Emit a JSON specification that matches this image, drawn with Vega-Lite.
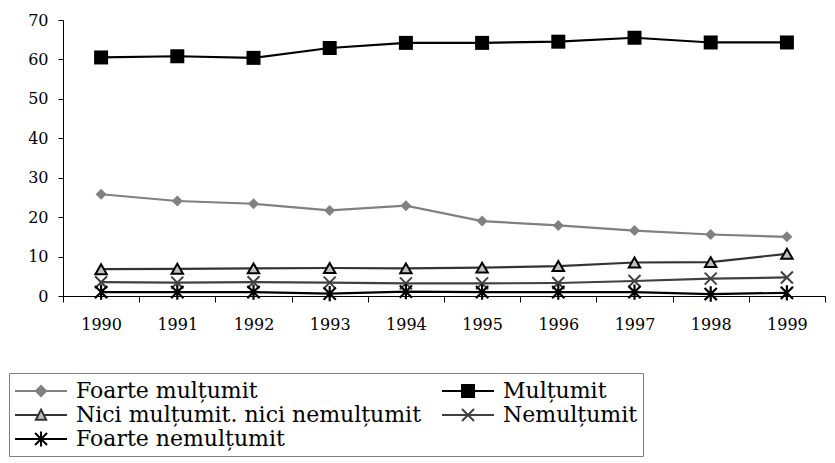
{
  "$schema": "https://vega.github.io/schema/vega-lite/v6.json",
  "width": 762,
  "height": 276,
  "autosize": {"type": "none"},
  "padding": {"left": 63, "top": 20, "right": 10, "bottom": 167},
  "background": "white",
  "config": {
    "view": {"stroke": null},
    "font": "DejaVu Serif",
    "axis": {"labelFont": "DejaVu Serif"},
    "legend": {"labelFont": "DejaVu Serif"}
  },
  "data": {
    "values": [
      {"series": "Foarte mulțumit", "year": "1990", "value": 25.8},
      {"series": "Foarte mulțumit", "year": "1991", "value": 24.1},
      {"series": "Foarte mulțumit", "year": "1992", "value": 23.4},
      {"series": "Foarte mulțumit", "year": "1993", "value": 21.7},
      {"series": "Foarte mulțumit", "year": "1994", "value": 22.9},
      {"series": "Foarte mulțumit", "year": "1995", "value": 19.0},
      {"series": "Foarte mulțumit", "year": "1996", "value": 17.9},
      {"series": "Foarte mulțumit", "year": "1997", "value": 16.6},
      {"series": "Foarte mulțumit", "year": "1998", "value": 15.6},
      {"series": "Foarte mulțumit", "year": "1999", "value": 15.0},
      {"series": "Mulțumit", "year": "1990", "value": 60.5},
      {"series": "Mulțumit", "year": "1991", "value": 60.8},
      {"series": "Mulțumit", "year": "1992", "value": 60.4},
      {"series": "Mulțumit", "year": "1993", "value": 62.9},
      {"series": "Mulțumit", "year": "1994", "value": 64.2},
      {"series": "Mulțumit", "year": "1995", "value": 64.2},
      {"series": "Mulțumit", "year": "1996", "value": 64.5},
      {"series": "Mulțumit", "year": "1997", "value": 65.5},
      {"series": "Mulțumit", "year": "1998", "value": 64.3},
      {"series": "Mulțumit", "year": "1999", "value": 64.3},
      {"series": "Nici mulțumit. nici nemulțumit", "year": "1990", "value": 6.8},
      {"series": "Nici mulțumit. nici nemulțumit", "year": "1991", "value": 6.9},
      {"series": "Nici mulțumit. nici nemulțumit", "year": "1992", "value": 7.0},
      {"series": "Nici mulțumit. nici nemulțumit", "year": "1993", "value": 7.1},
      {"series": "Nici mulțumit. nici nemulțumit", "year": "1994", "value": 7.0},
      {"series": "Nici mulțumit. nici nemulțumit", "year": "1995", "value": 7.2},
      {"series": "Nici mulțumit. nici nemulțumit", "year": "1996", "value": 7.6},
      {"series": "Nici mulțumit. nici nemulțumit", "year": "1997", "value": 8.5},
      {"series": "Nici mulțumit. nici nemulțumit", "year": "1998", "value": 8.6},
      {"series": "Nici mulțumit. nici nemulțumit", "year": "1999", "value": 10.7},
      {"series": "Nemulțumit", "year": "1990", "value": 3.5},
      {"series": "Nemulțumit", "year": "1991", "value": 3.4},
      {"series": "Nemulțumit", "year": "1992", "value": 3.5},
      {"series": "Nemulțumit", "year": "1993", "value": 3.4},
      {"series": "Nemulțumit", "year": "1994", "value": 3.2},
      {"series": "Nemulțumit", "year": "1995", "value": 3.2},
      {"series": "Nemulțumit", "year": "1996", "value": 3.3},
      {"series": "Nemulțumit", "year": "1997", "value": 3.8},
      {"series": "Nemulțumit", "year": "1998", "value": 4.4},
      {"series": "Nemulțumit", "year": "1999", "value": 4.7},
      {"series": "Foarte nemulțumit", "year": "1990", "value": 1.0},
      {"series": "Foarte nemulțumit", "year": "1991", "value": 1.0},
      {"series": "Foarte nemulțumit", "year": "1992", "value": 1.0},
      {"series": "Foarte nemulțumit", "year": "1993", "value": 0.6},
      {"series": "Foarte nemulțumit", "year": "1994", "value": 1.1},
      {"series": "Foarte nemulțumit", "year": "1995", "value": 1.0},
      {"series": "Foarte nemulțumit", "year": "1996", "value": 1.0},
      {"series": "Foarte nemulțumit", "year": "1997", "value": 1.0},
      {"series": "Foarte nemulțumit", "year": "1998", "value": 0.5},
      {"series": "Foarte nemulțumit", "year": "1999", "value": 0.8}
    ]
  },
  "encoding": {
    "x": {
      "field": "year", "type": "ordinal", "title": null,
      "scale": {"type": "band", "paddingInner": 0, "paddingOuter": 0},
      "axis": {
        "labelAngle": 0, "tickBand": "extent", "domainColor": "#000000", "tickColor": "#000000",
        "tickSize": 6, "labelPadding": 14, "labelFontSize": 16,
        "labelColor": "#000000", "domainWidth": 1, "tickWidth": 1
      }
    },
    "y": {
      "field": "value", "type": "quantitative", "title": null,
      "scale": {"domain": [0, 70], "nice": false},
      "axis": {
        "values": [0, 10, 20, 30, 40, 50, 60, 70], "grid": false, "domainColor": "#000000",
        "tickColor": "#000000", "tickSize": 5, "labelPadding": 10,
        "labelFontSize": 16, "labelColor": "#000000", "domainWidth": 1, "tickWidth": 1
      }
    }
  },
  "layer": [
    {
      "mark": {"type": "line", "strokeWidth": 2.2},
      "encoding": {
        "color": {
          "field": "series", "type": "nominal",
          "scale": {
            "domain": ["Foarte mulțumit", "Mulțumit", "Nici mulțumit. nici nemulțumit", "Nemulțumit", "Foarte nemulțumit"],
            "range": ["#808080", "#000000", "#333333", "#404040", "#000000"]
          },
          "legend": {
            "title": null,
            "orient": "none",
            "legendX": -54,
            "legendY": 353,
            "columns": 2,
            "direction": "horizontal",
            "strokeColor": "#808080",
            "padding": 5,
            "columnPadding": 17,
            "rowPadding": 0,
            "labelFontSize": 22,
            "labelColor": "#000000",
            "labelLimit": 600,
            "labelOffset": 36,
            "symbolSize": 576,
            "symbolStrokeWidth": 2,
            "encode": {
              "symbols": {
                "update": {
                  "shape": {"signal": "datum.value == 'Foarte mulțumit' ? 'M-1,0L3.33,0M1.17,-0.42L1.59,0L1.17,0.42L0.75,0Z' : datum.value == 'Mulțumit' ? 'M-1,0L3.33,0M0.67,-0.5L1.67,-0.5L1.67,0.5L0.67,0.5Z' : datum.value == 'Nemulțumit' ? 'M-1,0L3.33,0M0.67,-0.5L1.67,0.5M0.67,0.5L1.67,-0.5' : datum.value == 'Foarte nemulțumit' ? 'M-1,0L3.33,0M0.67,-0.5L1.67,0.5M0.67,0.5L1.67,-0.5M1.17,-0.62L1.17,0.62' : 'M-1,0L0.94,0M1.4,0L3.33,0M1.17,-0.45L1.6,0.4L0.74,0.4Z'"},
                  "fill": {"signal": "datum.value == 'Foarte mulțumit' ? '#808080' : datum.value == 'Mulțumit' ? '#000000' : datum.value == 'Nici mulțumit. nici nemulțumit' ? '#c0c0c0' : 'transparent'"},
                  "stroke": {"signal": "datum.value == 'Foarte mulțumit' ? '#808080' : datum.value == 'Nemulțumit' ? '#404040' : '#000000'"},
                  "fillOpacity": {"value": 1},
                  "opacity": {"value": 1}
                }
              }
            }
          }
        }
      }
    },
    {
      "transform": [{"filter": "datum.series == 'Foarte mulțumit'"}],
      "mark": {"type": "point", "shape": "diamond", "size": 121, "filled": true, "color": "#808080", "opacity": 1}
    },
    {
      "transform": [{"filter": "datum.series == 'Mulțumit'"}],
      "mark": {"type": "point", "shape": "square", "size": 196, "filled": true, "color": "#000000", "opacity": 1}
    },
    {
      "transform": [{"filter": "datum.series == 'Nici mulțumit. nici nemulțumit'"}],
      "mark": {"type": "point", "shape": "triangle-up", "size": 130, "fill": "#c0c0c0", "stroke": "#000000", "strokeWidth": 2, "opacity": 1, "fillOpacity": 1}
    },
    {
      "transform": [{"filter": "datum.series == 'Nemulțumit'"}],
      "mark": {"type": "point", "shape": "M-1,-1L1,1M-1,1L1,-1", "size": 144, "filled": false, "stroke": "#404040", "strokeWidth": 2, "opacity": 1}
    },
    {
      "transform": [{"filter": "datum.series == 'Foarte nemulțumit'"}],
      "mark": {"type": "point", "shape": "M-1,-1L1,1M-1,1L1,-1M0,-1.25L0,1.25", "size": 150, "filled": false, "stroke": "#000000", "strokeWidth": 2.2, "opacity": 1}
    }
  ]
}
